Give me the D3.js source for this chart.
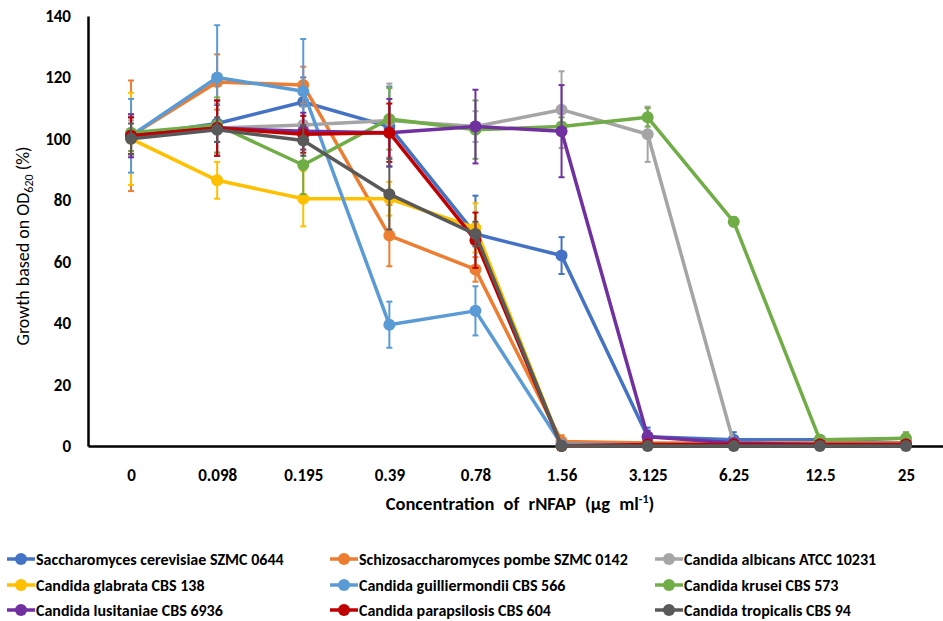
<!DOCTYPE html>
<html>
<head>
<meta charset="utf-8">
<script src="https://cdn.jsdelivr.net/npm/d3@7"></script>
<style>
  body { margin: 0; background: #fff; }
  text { font-family: Carlito, Calibri, Lato, "Open Sans", sans-serif; }
</style>
</head>
<body>
<div id="chart"></div>
<script>
// concentrations (µg/ml) used as categories
const concentrations = ["0", "0.098", "0.195", "0.39", "0.78", "1.56", "3.125", "6.25", "12.5", "25"];

const strains = [
  "Saccharomyces cerevisiae SZMC 0644", "Schizosaccharomyces pombe SZMC 0142", "Candida albicans ATCC 10231",
  "Candida glabrata CBS 138", "Candida guilliermondii CBS 566", "Candida krusei CBS 573",
  "Candida lusitaniae CBS 6936", "Candida parapsilosis CBS 604", "Candida tropicalis CBS 94"
];

const colors = ["#4472C4", "#ED7D31", "#A5A5A5", "#FFC000", "#5B9BD5", "#70AD47", "#7030A0", "#C00000", "#595959"];

// growth (%) per strain
const growth = [
  [101, 105, 112, 104, 69, 62, 3, 2, 2, 1],
  [101, 118.5, 117.5, 68.5, 57.5, 1.5, 1, 1, 1, 1],
  [101, 103.5, 104.5, 106, 104, 109.5, 101.5, 1, 0.5, 0.5],
  [100, 86.5, 80.5, 80.5, 71, 0, 0.5, 0.5, 0.5, 0.5],
  [101, 120, 115.5, 39.5, 44, 0.5, 0.5, 0.5, 0.5, 0.5],
  [102, 104.5, 91.5, 106.5, 103, 104, 107, 73, 2, 2.5],
  [101, 103.5, 102.5, 102, 104, 102.5, 3, 1, 0.5, 0.5],
  [101, 103.5, 101.5, 102, 67, 0, 0.5, 0.5, 0.5, 0.5],
  [100, 103, 99.5, 82, 69, 0, 0, 0, 0, 0]
];

// standard deviations (error bars)
const errors = [
  [6, 6, 8, 13, 12.5, 6, 3, 2.5, 1, 1],
  [18, 9, 6, 10, 4, 2, 1, 1, 0.5, 0.5],
  [5, 8, 6, 12, 5, 12.5, 9, 1, 0.5, 0.5],
  [15, 6, 9, 5.5, 8, 1, 0.5, 0.5, 0.5, 0.5],
  [12, 17, 17, 7.5, 8, 1, 0.5, 0.5, 0.5, 0.5],
  [6, 9, 9.5, 10, 9.5, 3, 3, 1.5, 1, 2],
  [7, 9, 6, 11, 12, 15, 2, 0.5, 0.5, 0.5],
  [6, 9, 6, 9.5, 9, 0.5, 0.5, 0.5, 0.5, 0.5],
  [5, 4, 5, 11.5, 4, 0, 0, 0, 0, 0]
];

const width = 943, height = 621;
const margin = ({ top: 16, right: -6, bottom: 175, left: 88 });

const svg = d3.select("#chart").append("svg")
    .attr("width", width)
    .attr("height", height);

const x = d3.scalePoint()
    .domain(concentrations)
    .range([margin.left, width - margin.right])
    .padding(0.5);

const y = d3.scaleLinear()
    .domain([0, 140])
    .range([height - margin.bottom, margin.top]);

// axes
svg.append("g")
    .attr("transform", `translate(0,${y(0)})`)
    .call(d3.axisBottom(x).tickSize(0).tickSizeOuter(0).tickPadding(23))
    .call(g => g.select(".domain").attr("stroke", "#000").attr("stroke-width", 2.5))
    .call(g => g.selectAll("text").attr("font-size", 17).attr("font-weight", "bold").attr("fill", "#000"));

svg.append("g")
    .attr("transform", `translate(${margin.left},0)`)
    .call(d3.axisLeft(y).ticks(7).tickSize(0).tickSizeOuter(0).tickPadding(17))
    .call(g => g.select(".domain").attr("stroke", "#000").attr("stroke-width", 2.5))
    .call(g => g.selectAll("text").attr("font-size", 17).attr("font-weight", "bold").attr("fill", "#000"));

// axis titles
const yTitle = svg.append("text")
    .attr("transform", `translate(29,${(y(0) + y(140)) / 2 + 15}) rotate(-90)`)
    .attr("text-anchor", "middle")
    .attr("font-size", 18);
yTitle.append("tspan").text("Growth based on OD");
yTitle.append("tspan").attr("font-size", 12).attr("dy", 4).text("620");
yTitle.append("tspan").attr("dy", -4).text(" (%)");

const xTitle = svg.append("text")
    .attr("x", 520)
    .attr("y", 510)
    .attr("text-anchor", "middle")
    .attr("font-size", 18.5)
    .attr("font-weight", 600)
    .attr("word-spacing", 5);
xTitle.append("tspan").text("Concentration of rNFAP (µg ml");
xTitle.append("tspan").attr("font-size", 12).attr("dy", -7).text("-1");
xTitle.append("tspan").attr("dy", 7).text(")");

// series
const line = d3.line()
    .x((d, i) => x(concentrations[i]))
    .y(d => y(d));

strains.forEach((name, s) => {
  const g = svg.append("g").attr("class", "series");
  const c = colors[s];

  const eb = g.selectAll(".err")
      .data(growth[s])
      .join("g")
      .attr("class", "err")
      .attr("stroke", c)
      .attr("stroke-width", 2);
  eb.append("line")
      .attr("x1", (d, i) => x(concentrations[i]))
      .attr("x2", (d, i) => x(concentrations[i]))
      .attr("y1", (d, i) => y(d - errors[s][i]))
      .attr("y2", (d, i) => y(d + errors[s][i]));
  [-1, 1].forEach(sign => {
    eb.append("line")
        .attr("x1", (d, i) => x(concentrations[i]) - 3)
        .attr("x2", (d, i) => x(concentrations[i]) + 3)
        .attr("y1", (d, i) => y(d + sign * errors[s][i]))
        .attr("y2", (d, i) => y(d + sign * errors[s][i]));
  });

  g.append("path")
      .datum(growth[s])
      .attr("fill", "none")
      .attr("stroke", c)
      .attr("stroke-width", 3.5)
      .attr("stroke-linejoin", "round")
      .attr("d", line);

  g.selectAll("circle")
      .data(growth[s])
      .join("circle")
      .attr("cx", (d, i) => x(concentrations[i]))
      .attr("cy", d => y(d))
      .attr("r", 6)
      .attr("fill", c);
});

// legend, 3 columns
const colX = [7, 330, 655], rowY = [559, 585, 610];
const legend = svg.selectAll(".legend")
    .data(strains)
    .join("g")
    .attr("class", "legend")
    .attr("transform", (d, i) => `translate(${colX[i % 3]},${rowY[Math.floor(i / 3)]})`);
legend.append("line")
    .attr("x1", 0).attr("x2", 28)
    .attr("stroke", (d, i) => colors[i])
    .attr("stroke-width", 3.5);
legend.append("circle")
    .attr("cx", 14)
    .attr("r", 6)
    .attr("fill", (d, i) => colors[i]);
legend.append("text")
    .attr("x", 29)
    .attr("dy", "0.35em")
    .attr("font-size", 16)
    .attr("font-weight", "bold")
    .text(d => d);
</script>
</body>
</html>
